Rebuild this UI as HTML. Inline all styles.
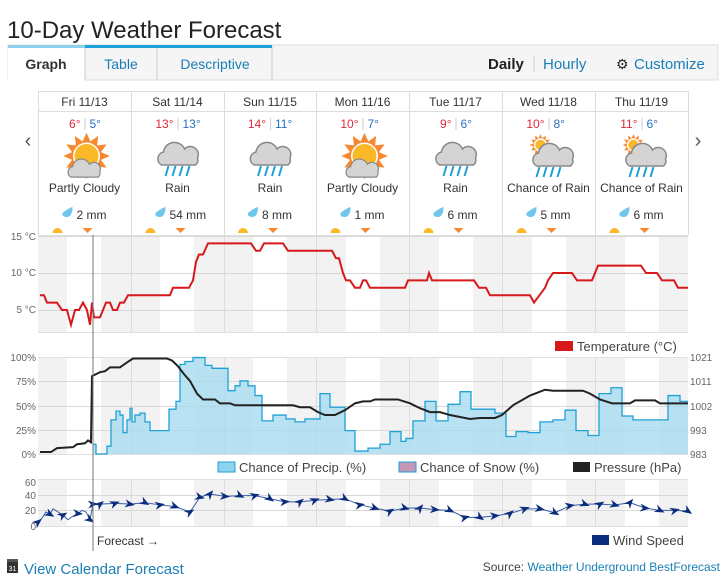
<!DOCTYPE html>
<html><head><meta charset="utf-8">
<style>
html,body{margin:0;padding:0;background:#fff;width:726px;height:582px;overflow:hidden;font-family:"Liberation Sans",sans-serif}
svg text{font-family:"Liberation Sans",sans-serif}
</style></head><body>
<svg id="s" width="726" height="582" viewBox="0 0 726 582" xmlns="http://www.w3.org/2000/svg">
<text x="7" y="38" font-size="24" fill="#222">10-Day Weather Forecast</text>
<rect x="8" y="45" width="710" height="35" fill="#f5f5f5" stroke="#ddd"/>
<rect x="8" y="46" width="77" height="35" fill="#fff"/>
<line x1="85" y1="46" x2="85" y2="80" stroke="#ccc"/>
<line x1="157" y1="46" x2="157" y2="80" stroke="#ccc"/>
<line x1="272" y1="46" x2="272" y2="80" stroke="#ccc"/>
<rect x="8" y="45" width="77" height="3" fill="#8fd0ee"/>
<rect x="85" y="45" width="187" height="3" fill="#1ea1d8"/>
<text x="46" y="69" font-size="14" font-weight="bold" fill="#333" text-anchor="middle">Graph</text>
<text x="121" y="69" font-size="14" fill="#1a7fb5" text-anchor="middle">Table</text>
<text x="215" y="69" font-size="14" fill="#1a7fb5" text-anchor="middle">Descriptive</text>
<text x="488" y="69" font-size="15" font-weight="bold" fill="#222">Daily</text>
<line x1="534" y1="56" x2="534" y2="72" stroke="#ccc"/>
<text x="543" y="69" font-size="15" fill="#1a7fb5">Hourly</text>
<text x="616" y="69" font-size="14" fill="#222">⚙</text>
<text x="634" y="69" font-size="15" fill="#1a7fb5">Customize</text>
<g id="days"></g>
<text x="28" y="147" font-size="20" fill="#555" text-anchor="middle">‹</text>
<text x="698" y="147" font-size="20" fill="#555" text-anchor="middle">›</text>
<g id="charts"></g>
<g font-size="10" fill="#666" text-anchor="end">
<text x="36" y="240">15 °C</text><text x="36" y="276">10 °C</text><text x="36" y="313">5 °C</text>
<text x="36" y="361">100%</text><text x="36" y="385">75%</text><text x="36" y="410">50%</text><text x="36" y="434">25%</text><text x="36" y="458">0%</text>
<text x="36" y="486">60</text><text x="36" y="499">40</text><text x="36" y="514">20</text><text x="36" y="530">0</text>
</g>
<g font-size="10" fill="#666">
<text x="690" y="361">1021</text><text x="690" y="385">1011</text><text x="690" y="410">1002</text><text x="690" y="434">993</text><text x="690" y="458">983</text>
</g>
<rect x="555" y="341" width="18" height="10" fill="#d7191c"/>
<text x="577" y="351" font-size="13" fill="#444">Temperature (°C)</text>
<rect x="218" y="462" width="17" height="10" fill="#8dd3ee" stroke="#1ea1d8"/>
<text x="239" y="472" font-size="13" fill="#444">Chance of Precip. (%)</text>
<rect x="399" y="462" width="17" height="10" fill="#c497b8" stroke="#1ea1d8"/>
<text x="420" y="472" font-size="13" fill="#444">Chance of Snow (%)</text>
<rect x="573" y="462" width="17" height="10" fill="#222"/>
<text x="594" y="472" font-size="13" fill="#444">Pressure (hPa)</text>
<rect x="592" y="535" width="17" height="10" fill="#0a2c7a"/>
<text x="613" y="545" font-size="13" fill="#444">Wind Speed</text>
<line x1="93" y1="235" x2="93" y2="551" stroke="#777" stroke-width="1"/>
<text x="97" y="545" font-size="12" fill="#333">Forecast →</text>
<rect x="7" y="561" width="11" height="12" fill="#333"/>
<rect x="7" y="559" width="11" height="3" fill="#555"/>
<text x="12.5" y="571" font-size="7" fill="#fff" text-anchor="middle">31</text>
<text x="24" y="574" font-size="15" fill="#1a7fb5">View Calendar Forecast</text>
<text x="720" y="571" font-size="12" fill="#444" text-anchor="end">Source: <tspan fill="#1a7fb5">Weather Underground BestForecast</tspan></text>
</svg>
<script>
var NS="http://www.w3.org/2000/svg";
function el(p,t,a,txt){var e=document.createElementNS(NS,t);for(var k in a)e.setAttribute(k,a[k]);if(txt!=null)e.textContent=txt;p.appendChild(e);return e;}
var D=document.getElementById("days"),C=document.getElementById("charts");
var cols=[38,131,224,316,409,502,595,688];
var days=[["Fri 11/13","6°","5°","pc","Partly Cloudy","2 mm"],["Sat 11/14","13°","13°","r","Rain","54 mm"],["Sun 11/15","14°","11°","r","Rain","8 mm"],["Mon 11/16","10°","7°","pc","Partly Cloudy","1 mm"],["Tue 11/17","9°","6°","r","Rain","6 mm"],["Wed 11/18","10°","8°","cr","Chance of Rain","5 mm"],["Thu 11/19","11°","6°","cr","Chance of Rain","6 mm"]];
el(D,"line",{x1:38,y1:91.5,x2:688,y2:91.5,stroke:"#ddd"});
el(D,"line",{x1:38,y1:111.5,x2:688,y2:111.5,stroke:"#ddd"});
cols.forEach(function(x){el(D,"line",{x1:x+.5,y1:91,x2:x+.5,y2:235,stroke:"#ddd"});});
function sun(g,cx,cy,r){var pts="";for(var i=0;i<24;i++){var a=i*Math.PI/12,rr=i%2?r*1.0:r*1.55;pts+=(cx+rr*Math.cos(a))+","+(cy+rr*Math.sin(a))+" ";}
el(g,"polygon",{points:pts,fill:"#f7882f"});el(g,"circle",{cx:cx,cy:cy,r:r*0.85,fill:"#fbb829",stroke:"#fff","stroke-width":1.5});}
function cloud(g,cx,cy,s){var p="M"+(cx-18*s)+","+(cy+8*s)+" a7,7 0 0 1 2,-13 a11,11 0 0 1 21,-3 a8,8 0 0 1 13,9 a6,6 0 0 1 -2,7 z";
var e=el(g,"path",{d:p,fill:"#d4d4d4",stroke:"#888","stroke-width":1.5});if(s!=1)e.setAttribute("transform","translate("+cx+","+cy+") scale("+s+") translate("+(-cx)+","+(-cy)+")");}
function rain(g,cx,cy){for(var i=0;i<4;i++){var x=cx-12+i*7;el(g,"line",{x1:x+3,y1:cy,x2:x,y2:cy+10,stroke:"#1ea1d8","stroke-width":2});}}
days.forEach(function(d,i){var x0=cols[i],x1=cols[i+1],cx=(x0+x1)/2;
el(D,"text",{x:cx,y:106,"font-size":12,fill:"#333","text-anchor":"middle"},d[0]);
el(D,"text",{x:cx-4,y:128,"font-size":12,fill:"#e0283a","text-anchor":"end"},d[1]);
el(D,"line",{x1:cx+.5,y1:118,x2:cx+.5,y2:130,stroke:"#ccc"});
el(D,"text",{x:cx+5,y:128,"font-size":12,fill:"#2a6fc0"},d[2]);
if(d[3]=="pc"){sun(D,cx+2,156,15);cloud(D,cx-2,172,0.8);}
else if(d[3]=="r"){cloud(D,cx+2,157,1);rain(D,cx,166);}
else{sun(D,cx-8,145,7);cloud(D,cx+6,158,1);rain(D,cx,167);}
el(D,"text",{x:cx,y:192,"font-size":12,fill:"#333","text-anchor":"middle"},d[4]);
el(D,"path",{d:"M"+(cx-22)+","+213+" q6,-5 10,-6 q0,9 -5,10 q-6,0 -5,-4z",fill:"#6ec6ea"});
el(D,"text",{x:cx-8,y:219,"font-size":12,fill:"#333"},d[5]);
el(D,"path",{d:"M"+(cx-32)+",233 a5,5 0 0 1 10,0z",fill:"#fbb829"});
el(D,"path",{d:"M"+(cx-2)+",228 h10 l-5,5z",fill:"#f7882f"});
});
function bg(y0,y1){el(C,"rect",{x:38,y:y0,width:650,height:y1-y0,fill:"#fff"});
for(var k=0;k<8;k++){var a=8+93*k,b=67+93*k;a=Math.max(a,38);b=Math.min(b,688);if(b>a)el(C,"rect",{x:a,y:y0,width:b-a,height:y1-y0,fill:"#f2f2f2"});}
cols.slice(1,7).forEach(function(x){el(C,"line",{x1:x+.5,y1:y0,x2:x+.5,y2:y1,stroke:"#ddd"});});
el(C,"line",{x1:38,y1:y0+.5,x2:688,y2:y0+.5,stroke:"#e0e0e0"});el(C,"line",{x1:38,y1:y1-.5,x2:688,y2:y1-.5,stroke:"#e0e0e0"});}
function hl(y){el(C,"line",{x1:38,y1:y,x2:688,y2:y,stroke:"#d8d8d8"});}
bg(235,333);hl(236.5);hl(273.5);hl(310.5);
bg(357,455);[381.5,406.5,430.5].forEach(hl);
bg(479,527);hl(495.5);hl(510.5);
var T=[[40,7],[44,7],[47,6],[57,6],[62,5],[67,5],[71,3],[75,5],[79,5],[83,6],[87,5],[90,3],[92,6],[94,4],[100,4],[106,6],[110,6],[113,5],[117,5],[120,6],[124,6],[128,7],[170,7],[173,8],[189,8],[193,9],[196,11.5],[199,12.5],[203,12.5],[208,14],[251,14],[256,13],[260,13],[264,14],[283,14],[288,13],[332,13],[336,12],[339,12],[343,10],[346,9],[350,9],[355,8],[360,8],[363,9],[366,9],[370,8],[405,8],[408,9],[427,9],[429,10],[432,9],[474,9],[479,8],[486,8],[490,7],[530,7],[534,6],[545,8],[548,9],[553,10],[572,10],[577,9],[592,9],[598,11],[641,11],[646,10],[657,10],[662,9],[674,9],[678,8],[688,8]];
el(C,"polyline",{points:T.map(function(p){return p[0]+","+(236+(15-p[1])*7.4)}).join(" "),fill:"none",stroke:"#d7191c","stroke-width":2});
var P=[[93,10],[96,0],[107,8],[111,35],[116,44],[120,40],[123,22],[127,35],[130,47],[132,33],[135,40],[140,42],[145,33],[150,24],[169,46],[176,54],[180,92],[185,95],[193,99],[205,91],[212,88],[228,65],[235,70],[240,75],[248,70],[255,60],[262,34],[273,40],[286,36],[295,33],[305,36],[320,62],[330,48],[345,24],[355,3],[368,6],[380,10],[390,23],[401,13],[406,16],[413,34],[425,54],[436,34],[448,51],[460,64],[471,46],[495,42],[506,18],[516,23],[528,22],[540,33],[553,35],[565,45],[576,24],[588,19],[599,62],[611,68],[622,39],[633,35],[668,60],[680,54],[688,54]];
function py(p){return 454-p*0.974;}
var d="M93,454";for(var i=0;i<P.length-1;i++){var y=py(P[i][1]);d+=" L"+P[i][0]+","+y+" L"+P[i+1][0]+","+y;}
el(C,"path",{d:d+" L688,454 Z",fill:"#a8dcef","fill-opacity":0.8,stroke:"none"});
el(C,"path",{d:d.replace("M93,454 L","M"),fill:"none",stroke:"#1ea1d8","stroke-width":1.3});
var R=[[40,2],[51,2],[57,6],[73,7],[77,10],[85,11],[88,14],[91,12],[92,80],[100,84],[105,85],[110,89],[120,89],[127,94],[133,98],[167,98],[172,96],[178,90],[184,82],[190,75],[197,62],[203,56],[215,56],[220,52],[230,52],[235,50],[293,50],[300,48],[310,48],[318,43],[325,40],[335,40],[345,45],[355,52],[363,54],[370,54],[375,56],[398,56],[410,52],[420,47],[430,43],[440,43],[450,40],[470,36],[480,37],[495,37],[502,40],[513,50],[530,60],[545,66],[553,65],[583,65],[590,62],[600,56],[612,52],[630,52],[635,55],[655,55],[660,52],[688,52]];
el(C,"polyline",{points:R.map(function(p){return p[0]+","+py(p[1])}).join(" "),fill:"none",stroke:"#222","stroke-width":2});
var W=[[38,5],[42,10],[46,18],[50,15],[53,22],[58,18],[63,14],[68,8],[72,12],[78,16],[82,20],[86,18],[90,8],[93,28],[100,28],[115,29],[130,28],[145,30],[160,27],[175,25],[190,18],[200,37],[210,41],[225,38],[240,39],[255,39],[270,35],[285,31],[300,31],[315,33],[330,34],[345,35],[360,27],[375,23],[390,19],[405,23],[420,23],[435,21],[450,20],[465,11],[480,11],[495,13],[510,16],[525,22],[540,22],[555,17],[570,26],[585,28],[600,28],[615,27],[630,30],[645,23],[660,20],[675,20],[688,19]];
function wy(v){return 526-v*0.78;}
el(C,"polyline",{points:W.map(function(p){return p[0]+","+wy(p[1])}).join(" "),fill:"none",stroke:"#3a5ea8","stroke-width":1});
var ang=[-40,-20,10,30,-10,20,-30,15,-50,5,25,-15,35,-5];
W.forEach(function(p,i){if(p[0]<93&&i%3)return;var x=p[0],y=wy(p[1]),a=ang[i%ang.length];
el(C,"path",{d:"M-5,-4 L5,0 L-5,4 L-2,0 Z",fill:"#0a2c7a",transform:"translate("+x+","+y+") rotate("+a+")"});});
</script>
</body></html>
